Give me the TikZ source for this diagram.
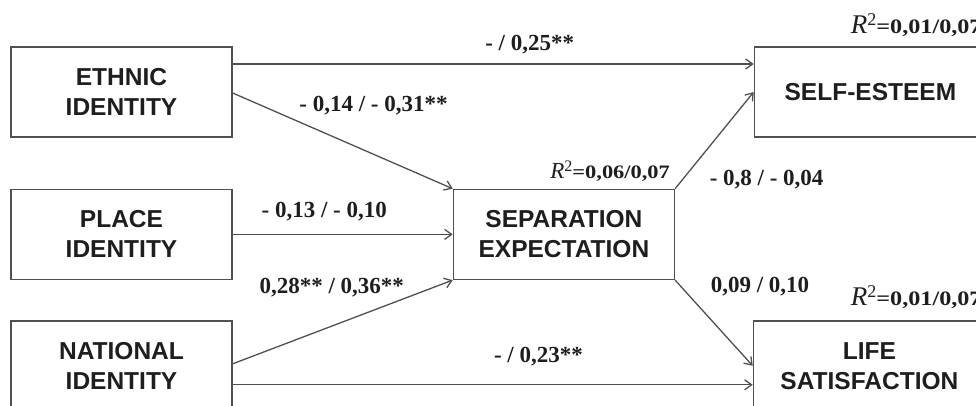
\documentclass[tikz,border=0pt]{standalone}
\usepackage{fontspec}
\setmainfont{Liberation Serif}
\newfontfamily\boxfont{Liberation Sans}
\newfontfamily\rvalfont{Liberation Serif}[FakeStretch=1.18]
\usetikzlibrary{arrows.meta,positioning}
\definecolor{edge}{RGB}{80,80,80}
\definecolor{ink}{RGB}{30,30,30}
\newcommand{\rsqlab}[5]{{\fontsize{#1}{#1}\selectfont\itshape R}\raisebox{#3}{\fontsize{#2}{#2}\selectfont 2}{\rvalfont\bfseries\fontsize{#4}{#4}\selectfont=#5}}

\begin{document}
\begin{tikzpicture}[x=1pt,y=-1pt,
  var/.style={draw=edge,line width=1.4pt,minimum width=221pt,minimum height=90pt,inner sep=0pt,align=center,text=ink,font=\boxfont\bfseries\fontsize{24.5}{30}\selectfont},
  outc/.style={var,minimum width=232pt},
  link/.style={-{Straight Barb[length=7pt,width=10pt]},line width=1.3pt,color=edge},
  coef/.style={inner sep=0pt,text=ink,font=\bfseries\fontsize{23}{26}\selectfont},
  rsq/.style={inner sep=0pt,text=ink}]
  \useasboundingbox (0,0) rectangle (976,405);
  \node[var] (ethnic) at (121.5,92) {ETHNIC\\IDENTITY};
  \node[var,below=51pt of ethnic] (place) {PLACE\\IDENTITY};
  \node[var,below=40pt of place] (national) {NATIONAL\\IDENTITY};
  \node[var,right=220pt of place] (sep) {SEPARATION\\EXPECTATION};
  \node[outc,right=521pt of ethnic] (esteem) {SELF-ESTEEM};
  \node[outc,right=520pt of national] (satisf) {LIFE\\SATISFACTION};
  \draw[link] ([yshift=28pt]ethnic.east) -- node[coef,pos=0.57,anchor=base,yshift=14pt]{- / 0,25**} ([yshift=28pt]esteem.west);
  \draw[link] ([yshift=-1pt]ethnic.east) -- node[coef,pos=0.3,anchor=base west,yshift=10pt]{- 0,14 / - 0,31**} (sep.north west);
  \draw[link] (place) -- node[coef,pos=0.416,anchor=base,yshift=17pt]{- 0,13 / - 0,10} (sep);
  \draw[link] ([yshift=2pt]national.east) -- node[coef,pos=0.45,anchor=base,yshift=33pt]{0,28** / 0,36**} (sep.south west);
  \draw[link] ([yshift=-19pt]national.east) -- node[coef,pos=0.588,anchor=base,yshift=22pt]{- / 0,23**} ([yshift=-19pt]satisf.west);
  \draw[link] (sep.north east) -- node[coef,pos=0,anchor=base west,xshift=34pt,yshift=3pt]{- 0,8 / - 0,04} (esteem.west);
  \draw[link] (sep.south east) -- node[coef,pos=0,anchor=base west,xshift=35pt,yshift=-12pt]{0,09 / 0,10} (satisf.west);
  % R squared
  \node[rsq,anchor=base east] (rsep) at ([xshift=-5pt,yshift=10pt]sep.north east) {\rsqlab{23}{16}{7pt}{19}{0,06/0,07}};
  \node[rsq,anchor=base west] (resteem) at ([xshift=97pt,yshift=13pt]esteem.north west) {\rsqlab{27}{18}{8pt}{20.5}{0,01/0,07}};
  \node[rsq,anchor=base west] (rsatisf) at ([xshift=98pt,yshift=15pt]satisf.north west) {\rsqlab{27}{18}{8pt}{20.5}{0,01/0,07}};
\end{tikzpicture}
\end{document}
